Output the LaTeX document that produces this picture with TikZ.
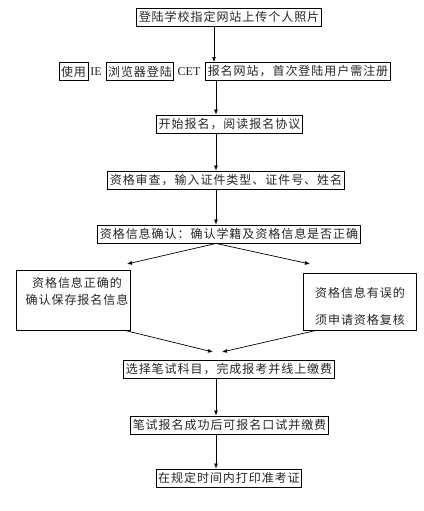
\documentclass[tikz,border=0pt]{standalone}
\usepackage{fontspec}
\setmainfont{Liberation Serif}
\newfontfamily\cjk[LetterSpace=8]{Noto Sans CJK SC}
\usetikzlibrary{arrows.meta}
\tikzset{
  box/.style={draw=black, line width=0.9pt, inner xsep=2pt, inner ysep=0pt, minimum height=18pt, font=\cjk\fontsize{12}{14}\selectfont, text=black!85},
  plain/.style={inner sep=0pt, font=\fontsize{12}{14}\selectfont, text=black!85},
  txt/.style={inner sep=0pt, align=center, text=black!85},
  arr/.style={line width=0.7pt, -{Latex[length=5pt,width=4pt]}},
}
\begin{document}
\begin{tikzpicture}[x=1pt,y=-1pt]
\useasboundingbox[fill=white] (0,0) rectangle (423,511);
\node[box] (b1) at (229,17) {登陆学校指定网站上传个人照片};
\node[box] (w1) at (73.5,71.5) {使用};
\node[plain] (w2) at (96,71.5) {IE};
\node[box] (w3) at (140,71.5) {浏览器登陆};
\node[plain] (w4) at (189,71.5) {CET};
\node[box] (w5) at (298,71.5) {报名网站，首次登陆用户需注册};
\node[box] (b3) at (229.5,124) {开始报名，阅读报名协议};
\node[box] (b4) at (226,180) {资格审查，输入证件类型、证件号、姓名};
\node[box] (b5) at (229,234) {资格信息确认：确认学籍及资格信息是否正确};
\node[draw=black, line width=0.9pt, minimum width=114pt, minimum height=60pt] (L) at (73,300) {};
\node[txt, font=\cjk\fontsize{12}{17}\selectfont] (Lt) at (77,291.5) {资格信息正确的\\确认保存报名信息};
\node[draw=black, line width=0.9pt, minimum width=113pt, minimum height=57pt] (R) at (359.5,301.5) {};
\node[txt, font=\cjk\fontsize{12}{27}\selectfont] (Rt) at (360,306.5) {资格信息有误的\\须申请资格复核};
\node[box] (b6) at (229,369) {选择笔试科目，完成报考并线上缴费};
\node[box] (b7) at (229.5,425) {笔试报名成功后可报名口试并缴费};
\node[box] (b8) at (229,478) {在规定时间内打印准考证};
\coordinate (c1) at (214,0);
\coordinate (c2) at (216,0);
\coordinate (sl) at (127,264);
\coordinate (sr) at (310,264);
\coordinate (ml) at (213,352);
\coordinate (mr) at (222,352);
\coordinate (lo) at (125,0);
\coordinate (ro) at (316,0);
\draw[arr] (c1 |- b1.south) -- (c1 |- w5.north);
\draw[arr] (c2 |- w5.south) -- (c2 |- b3.north);
\draw[arr] (c2 |- b3.south) -- (c2 |- b4.north);
\draw[arr] (c2 |- b4.south) -- (c2 |- b5.north);
\draw[arr] (c2 |- b5.south) -- (sl);
\draw[arr] (c2 |- b5.south) -- (sr);
\draw[arr] (lo |- L.south) -- (ml);
\draw[arr] (ro |- R.south) -- (mr);
\draw[arr] (c2 |- b6.south) -- (c2 |- b7.north);
\draw[arr] (c2 |- b7.south) -- (c2 |- b8.north);
\end{tikzpicture}
\end{document}
